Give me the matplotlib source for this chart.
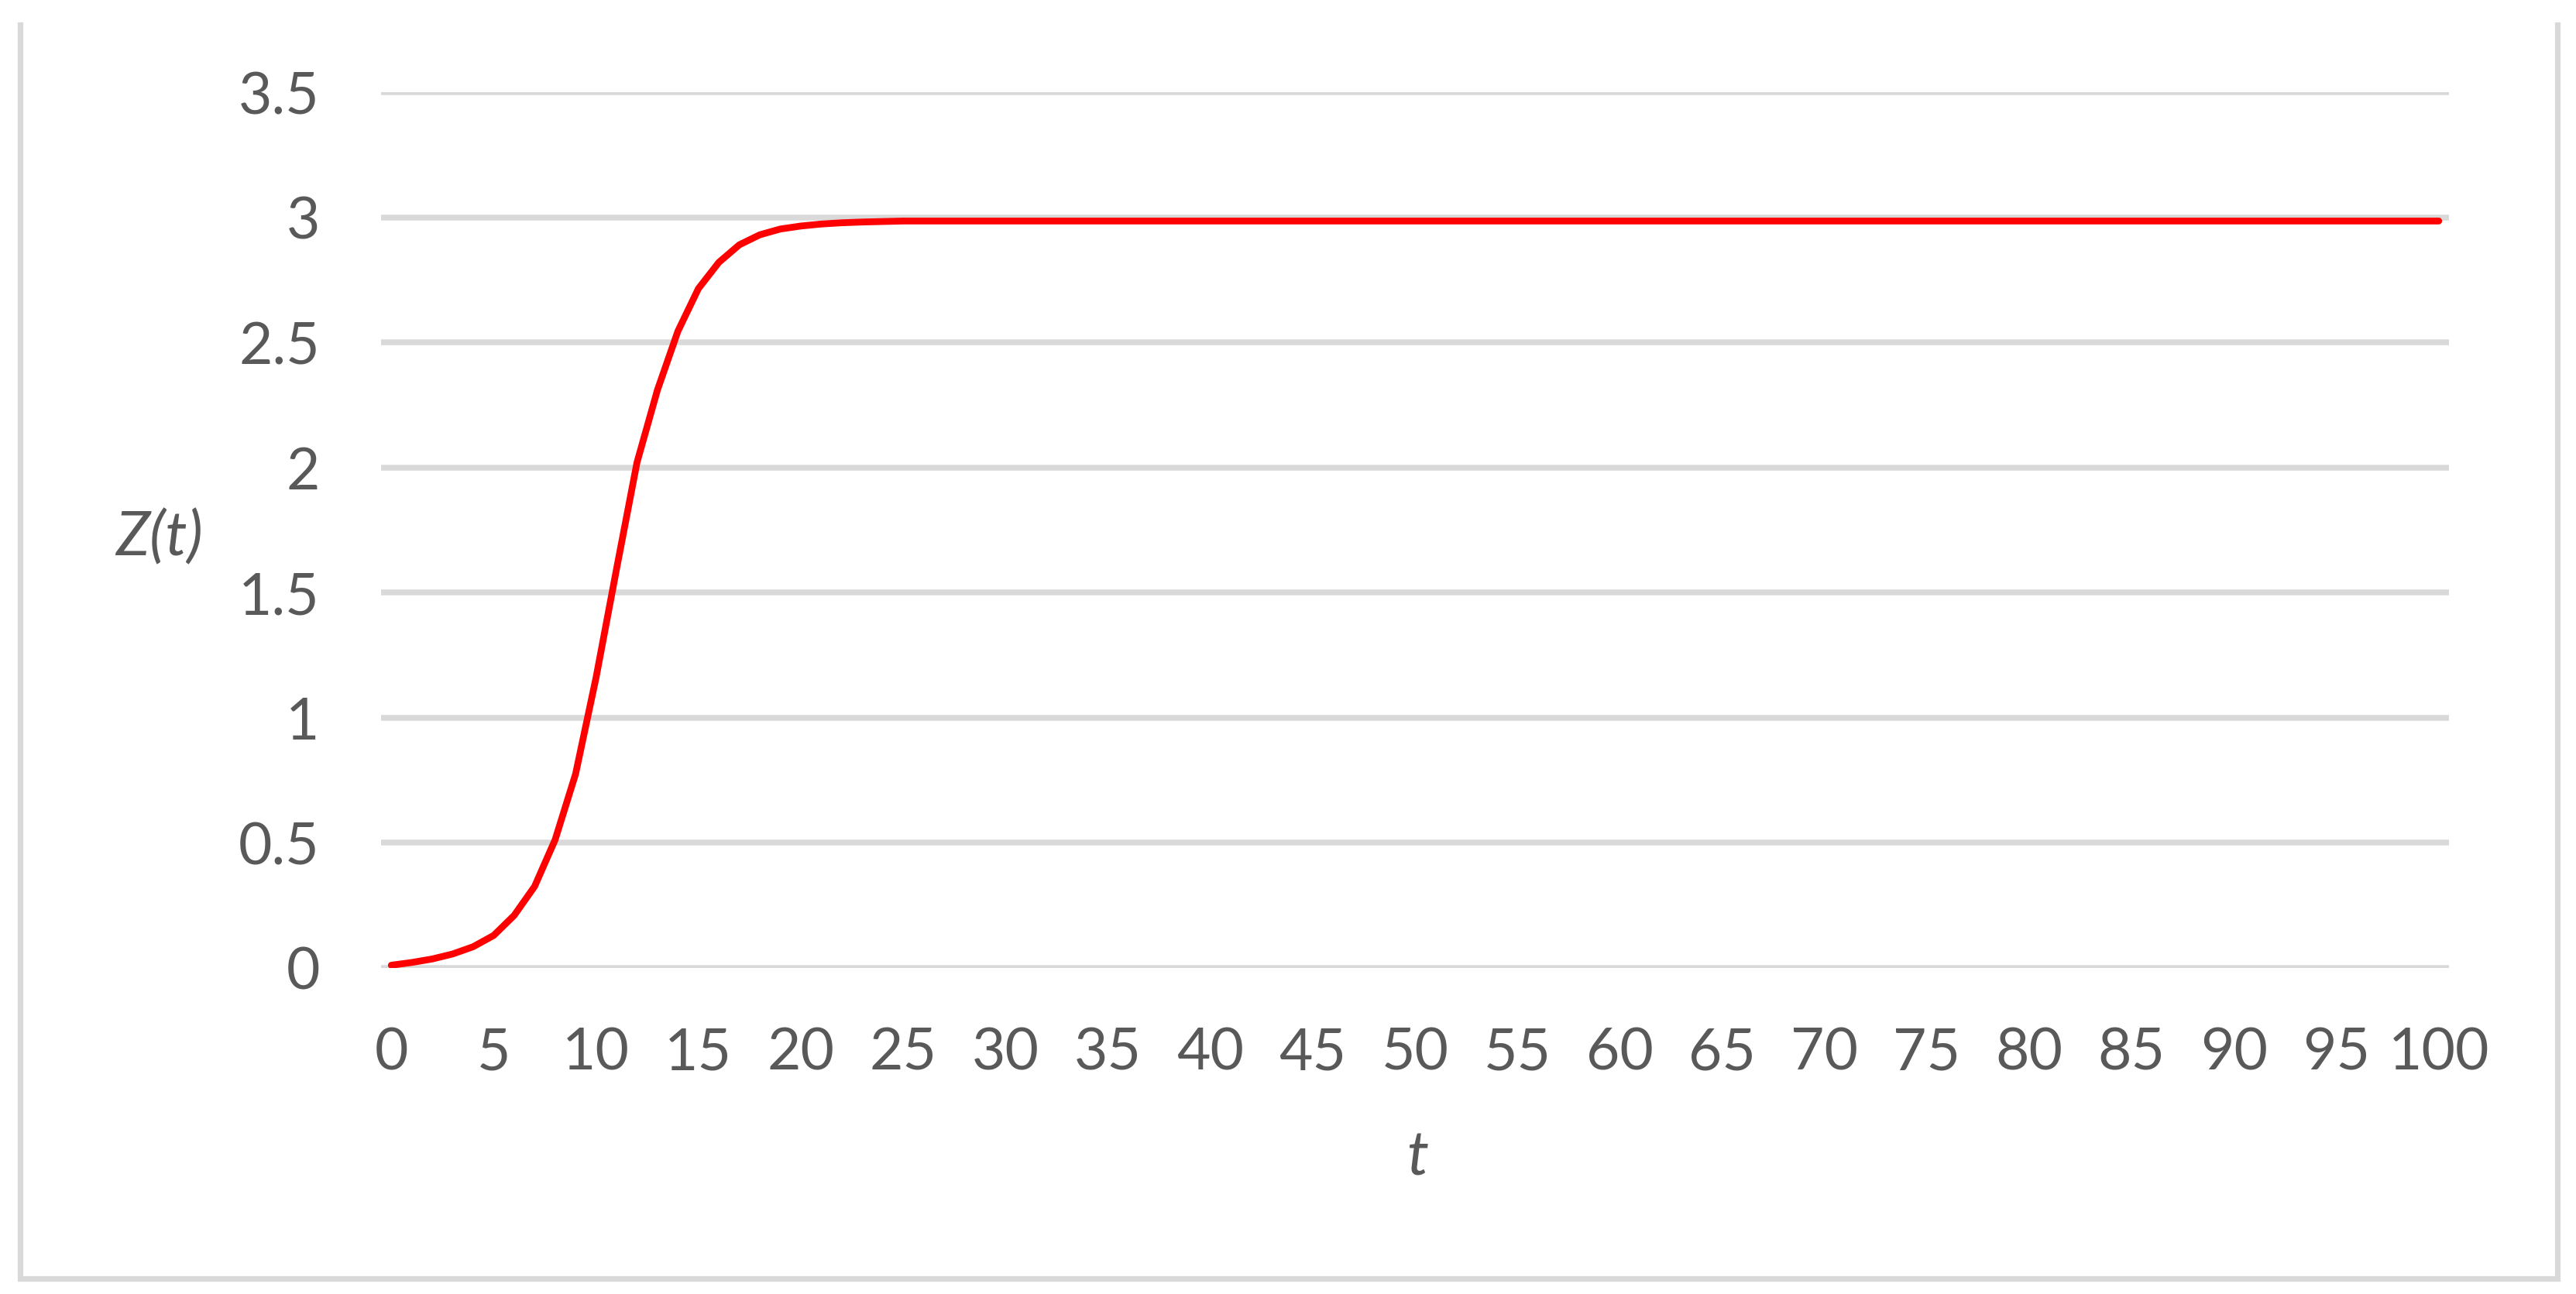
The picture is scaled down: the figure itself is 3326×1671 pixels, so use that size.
import matplotlib.pyplot as plt
from matplotlib.lines import Line2D
import numpy as np

plt.rcParams['font.family'] = ['Lato', 'DejaVu Sans']

# t = 0..100 (one point per step)
t_values = list(range(0, 101))
z_values = [
    0.011, 0.022, 0.036, 0.056, 0.085, 0.13, 0.21, 0.326, 0.512, 0.775,
    1.16, 1.594, 2.02, 2.31, 2.545, 2.715, 2.82, 2.89, 2.93, 2.953,
    2.965, 2.973, 2.978, 2.981, 2.983, 2.985, 2.985, 2.985, 2.985, 2.985,
    2.985, 2.985, 2.985, 2.985, 2.985, 2.985, 2.985, 2.985, 2.985, 2.985,
    2.985, 2.985, 2.985, 2.985, 2.985, 2.985, 2.985, 2.985, 2.985, 2.985,
    2.985, 2.985, 2.985, 2.985, 2.985, 2.985, 2.985, 2.985, 2.985, 2.985,
    2.985, 2.985, 2.985, 2.985, 2.985, 2.985, 2.985, 2.985, 2.985, 2.985,
    2.985, 2.985, 2.985, 2.985, 2.985, 2.985, 2.985, 2.985, 2.985, 2.985,
    2.985, 2.985, 2.985, 2.985, 2.985, 2.985, 2.985, 2.985, 2.985, 2.985,
    2.985, 2.985, 2.985, 2.985, 2.985, 2.985, 2.985, 2.985, 2.985, 2.985,
    2.985,
]
x_ticks = list(range(0, 101, 5))
y_ticks = [0, 0.5, 1, 1.5, 2, 2.5, 3, 3.5]
y_ticklabels = ['0', '0.5', '1', '1.5', '2', '2.5', '3', '3.5']

W, H = 3326, 1671
grey_txt = '#595959'
grey_line = '#d9d9d9'

fig = plt.figure(figsize=(W / 100, H / 100), dpi=100)
fig.patch.set_facecolor('white')

# plot area (pixel positions)
ax = fig.add_axes([492 / W, 1 - 1250 / H, 2670 / W, 1131 / H])
ax.plot(t_values, z_values, color='#ff0000', lw=6.3,
        solid_capstyle='round', solid_joinstyle='round', zorder=3)

ax.set_xlim(-0.5, 100.5)
ax.set_ylim(0, 3.5)
ax.set_xticks(x_ticks)
ax.set_xticklabels([str(v) for v in x_ticks])
ax.set_yticks(y_ticks)
ax.set_yticklabels(y_ticklabels)
ax.yaxis.grid(True, color=grey_line, lw=5.4, zorder=0)
ax.xaxis.grid(False)
ax.set_axisbelow(True)
for s in ax.spines.values():
    s.set_visible(False)
ax.tick_params(axis='both', length=0, labelsize=54, labelcolor=grey_txt)
ax.tick_params(axis='y', pad=57)
ax.tick_params(axis='x', pad=54)

# axis titles
fig.text(205 / W, 1 - 717 / H, 'Z(t)', fontsize=57, style='italic',
         color=grey_txt, ha='center', va='baseline')
fig.text(1830 / W, 1 - 1518 / H, 't', fontsize=57, style='italic',
         color=grey_txt, ha='center', va='baseline')

# chart border (top edge is cut off in the reference)
bx = [26 / W, 26 / W, 3302 / W, 3302 / W]
by = [1 - 32 / H, 1 - 1651 / H, 1 - 1651 / H, 1 - 32 / H]
fig.add_artist(Line2D(bx, by, transform=fig.transFigure, color=grey_line,
                      lw=5.2, solid_joinstyle='miter'))

fig.savefig('out.png', dpi=100)
